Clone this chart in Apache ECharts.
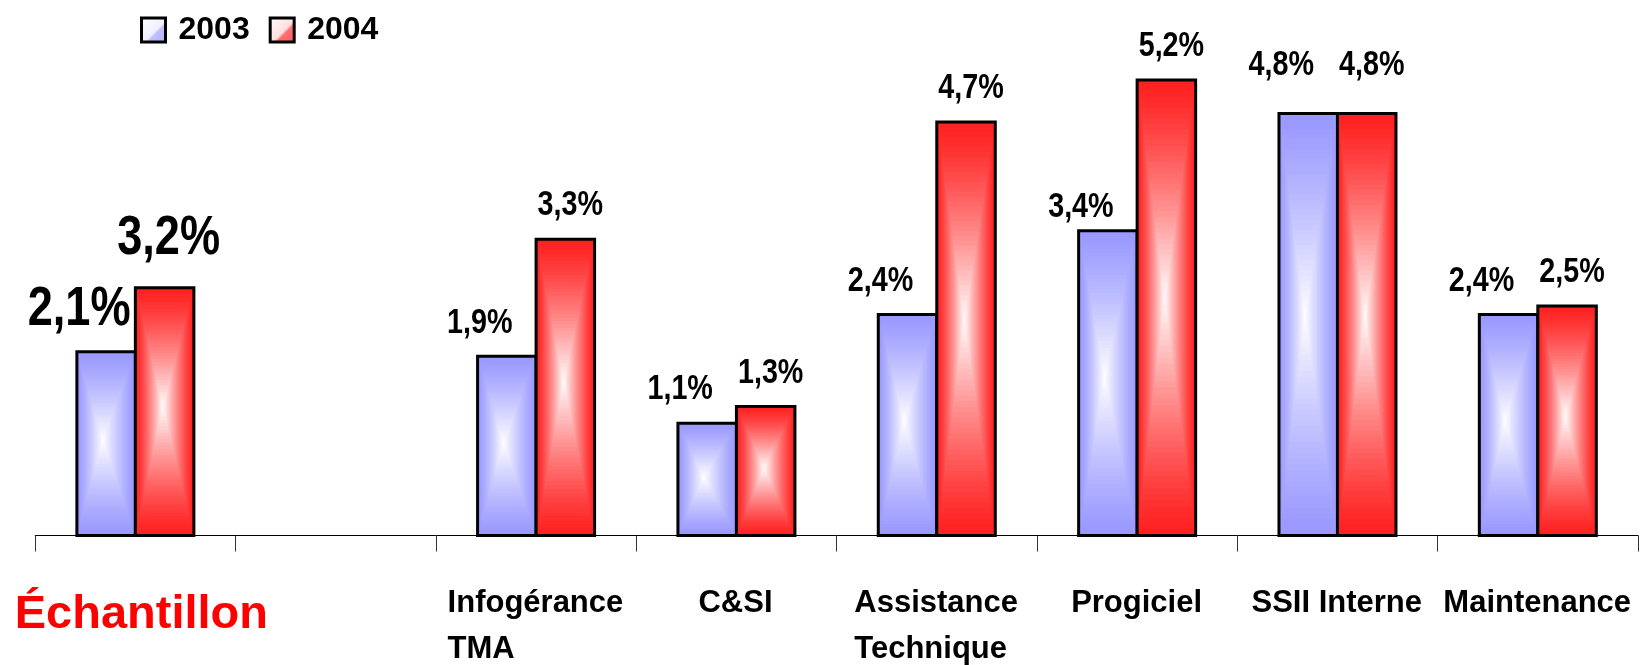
<!DOCTYPE html>
<html>
<head>
<meta charset="utf-8">
<title>Croissance 2003 / 2004</title>
<script src="https://cdn.jsdelivr.net/npm/echarts@6/dist/echarts.min.js"></script>
<style>
  html, body { margin: 0; padding: 0; background: #fff; }
  #chart { width: 1650px; height: 665px; }
</style>
</head>
<body>
<div id="chart"></div>
<script>
// Categories (the second slot is an intentional gap after the sample column)
const categories = ['Échantillon', '', 'Infogérance\nTMA', 'C&SI', 'Assistance\nTechnique', 'Progiciel', 'SSII Interne', 'Maintenance'];
const years = ['2003', '2004'];
const values2003 = [2.1, null, 1.9, 1.1, 2.4, 3.4, 4.8, 2.4];
const values2004 = [3.2, null, 3.3, 1.3, 4.7, 5.2, 4.8, 2.5];

// Vertical nudges (px, positive = down) for a few value labels
const labelNudge2003 = [0, 0, 0, 0, 0, 10, -15, 0];
const labelNudge2004 = [0, 0, 0, 0, 0, 0, -15, 0];

const FONT = "'Liberation Sans', Arial, sans-serif";
const BLUE = [153, 153, 255];
const RED = [255, 33, 33];
const BAR_RATIO = 0.292;
const CONDENSE = 0.82;

function fmt(v) {
  return v.toFixed(1).replace('.', ',') + '%';
}

function mix(rgb, t) {
  const c = rgb.map(function (k) { return Math.round(k + (255 - k) * t); });
  return 'rgb(' + c.join(',') + ')';
}

// Bars with a rectangular fade from the edge colour to a white core
function makeRenderer(opt) {
  return function (params, api) {
    const v = api.value(1);
    if (v == null || isNaN(v)) return;
    const idx = api.value(0);
    const p = api.coord([idx, v]);
    const cs = params.coordSys;
    const bottom = cs.y + cs.height;
    const catW = api.size([1, 0])[0];
    const w = catW * BAR_RATIO;
    const x = opt.side < 0 ? p[0] - w : p[0];
    const top = p[1];
    const h = bottom - top;
    const children = [];
    const N = 40;
    for (let i = 0; i < N; i++) {
      const t = i / N;
      children.push({
        type: 'rect', silent: true,
        shape: { x: x + t * w * opt.fx, y: top + t * h * 0.48, width: w * (1 - t), height: h * (1 - t) },
        style: { fill: mix(opt.edge, Math.pow(t, 1.25)) }
      });
    }
    children.push({
      type: 'rect', silent: true,
      shape: { x: x, y: top, width: w, height: h },
      style: { fill: 'none', stroke: '#000', lineWidth: 3 }
    });
    children.push({
      type: 'text', silent: true,
      x: x + w / 2 + opt.dx,
      y: top - opt.gap + (opt.nudge[idx] || 0),
      scaleX: CONDENSE,
      style: {
        text: fmt(v),
        x: 0, y: 0,
        align: 'center',
        verticalAlign: 'bottom',
        fontSize: opt.fontSize,
        fontWeight: 'bold',
        fontFamily: FONT,
        fill: '#000'
      }
    });
    return { type: 'group', children: children };
  };
}

function pick(values, keep) {
  const out = [];
  values.forEach(function (v, i) {
    if (v != null && keep(i)) out.push([i, v]);
  });
  return out;
}

// Left-aligned lines inside a centred block for two-line category names
const measureCtx = document.createElement('canvas').getContext('2d');
measureCtx.font = 'bold 31px ' + FONT;
const rich = {
  hl: { fontSize: 47, fontWeight: 'bold', fontFamily: FONT, color: '#FF0000', lineHeight: 70, padding: [0, 0, 0, 12] }
};
categories.forEach(function (c, i) {
  const lines = c.split('\n');
  const w = Math.max.apply(null, lines.map(function (l) { return measureCtx.measureText(l).width; }));
  rich['c' + i] = {
    fontSize: 31, fontWeight: 'bold', fontFamily: FONT, color: '#000',
    lineHeight: 46, width: Math.ceil(w) + 1, align: 'left'
  };
});

function legendSwatch(rgb) {
  return {
    type: 'linear', x: 0, y: 0, x2: 1, y2: 1,
    colorStops: [
      { offset: 0, color: '#fff' },
      { offset: 0.55, color: mix(rgb, 0.85) },
      { offset: 0.62, color: mix(rgb, 0.35) },
      { offset: 1, color: mix(rgb, 0.25) }
    ]
  };
}

const chart = echarts.init(document.getElementById('chart'), null, { renderer: 'canvas' });

chart.setOption({
  animation: false,
  backgroundColor: '#fff',
  legend: {
    left: 135,
    top: 9,
    itemWidth: 24,
    itemHeight: 24,
    itemGap: 19,
    textStyle: { fontSize: 32, fontWeight: 'bold', fontFamily: FONT, color: '#000', padding: [0, 0, 0, 8] },
    data: [
      { name: years[0], icon: 'rect', itemStyle: { borderColor: '#000', borderWidth: 3, color: legendSwatch(BLUE) } },
      { name: years[1], icon: 'rect', itemStyle: { borderColor: '#000', borderWidth: 3, color: legendSwatch(RED) } }
    ]
  },
  grid: { left: 31, right: 12, top: 41, bottom: 126, containLabel: false },
  xAxis: {
    type: 'category',
    data: categories,
    boundaryGap: true,
    axisLine: { onZero: false, lineStyle: { color: '#000', width: 1 } },
    axisTick: { show: true, length: 16, lineStyle: { color: '#333', width: 1 } },
    axisLabel: {
      interval: 0,
      margin: 45,
      formatter: function (value, index) {
        if (index === 0) return '{hl|' + value + '}';
        if (!value) return '';
        return value.split('\n').map(function (l) { return '{c' + index + '|' + l + '}'; }).join('\n');
      },
      rich: rich
    }
  },
  yAxis: [
    // scale for the sector columns
    { type: 'value', min: -0.24, max: 5.667, show: false, splitLine: { show: false } },
    // scale for the sample column
    { type: 'value', min: -1.07, max: 7.457, show: false, splitLine: { show: false } }
  ],
  series: [
    { name: years[0], type: 'custom', yAxisIndex: 0, encode: { x: 0, y: 1 },
      data: pick(values2003, function (i) { return i > 0; }),
      itemStyle: { color: mix(BLUE, 0) },
      renderItem: makeRenderer({ side: -1, edge: BLUE, fx: 0.44, dx: -27, gap: 16, fontSize: 35, nudge: labelNudge2003 }) },
    { name: years[1], type: 'custom', yAxisIndex: 0, encode: { x: 0, y: 1 },
      data: pick(values2004, function (i) { return i > 0; }),
      itemStyle: { color: mix(RED, 0) },
      renderItem: makeRenderer({ side: 1, edge: RED, fx: 0.47, dx: 5, gap: 16, fontSize: 35, nudge: labelNudge2004 }) },
    { name: years[0], type: 'custom', yAxisIndex: 1, encode: { x: 0, y: 1 },
      data: pick(values2003, function (i) { return i === 0; }),
      itemStyle: { color: mix(BLUE, 0) },
      renderItem: makeRenderer({ side: -1, edge: BLUE, fx: 0.44, dx: -27, gap: 14, fontSize: 55, nudge: labelNudge2003 }) },
    { name: years[1], type: 'custom', yAxisIndex: 1, encode: { x: 0, y: 1 },
      data: pick(values2004, function (i) { return i === 0; }),
      itemStyle: { color: mix(RED, 0) },
      renderItem: makeRenderer({ side: 1, edge: RED, fx: 0.47, dx: 4, gap: 22, fontSize: 55, nudge: labelNudge2004 }) }
  ]
});
</script>
</body>
</html>
